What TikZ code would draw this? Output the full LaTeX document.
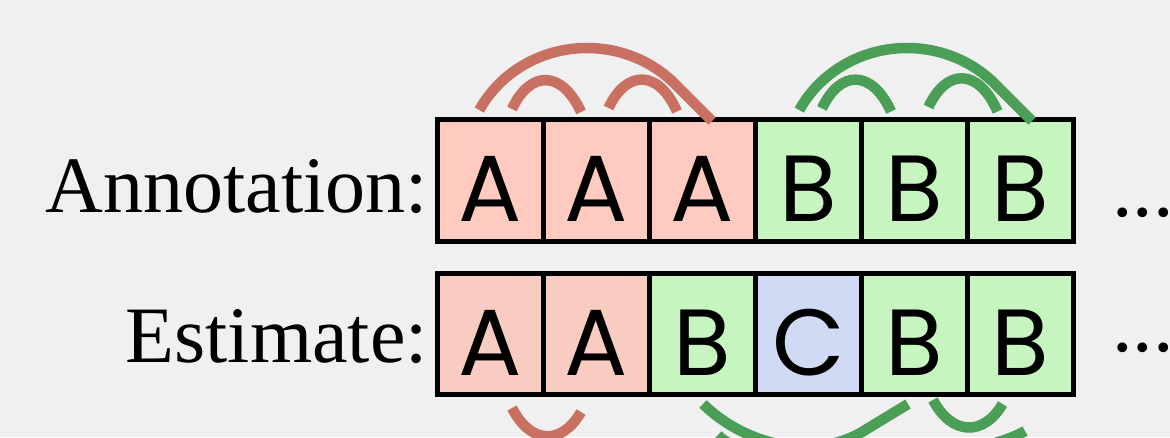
\documentclass[tikz,border=0pt]{standalone}
\usepackage{fontspec}
\setmainfont{Liberation Serif}
\newfontfamily\cellfont{Poppins}
\definecolor{bg}{HTML}{F0F0F0}
\definecolor{redfillA}{HTML}{FFCBC0}
\definecolor{redfillB}{HTML}{F8CCC1}
\definecolor{greenfill}{HTML}{C6F5C0}
\definecolor{bluefill}{HTML}{D0DAF5}
\definecolor{redarc}{HTML}{C87062}
\definecolor{greenarc}{HTML}{4A9E55}
\tikzset{
  cell/.style={draw=black, line width=5pt, minimum width=106pt, inner sep=0pt, outer sep=0pt},
  toprow/.style={cell, minimum height=122pt},
  botrow/.style={cell, minimum height=121pt},
  letter/.style={anchor=base, inner sep=0pt, font=\cellfont\fontsize{94}{94}\selectfont},
  rowlabel/.style={anchor=base east, inner sep=0pt, font=\fontsize{80}{80}\selectfont},
  dotstext/.style={anchor=base west, inner sep=0pt, font=\fontsize{82}{82}\selectfont},
  arcline/.style={line width=10.5pt, line cap=butt},
}
\begin{document}
\begin{tikzpicture}[x=1pt,y=-1pt]
\useasboundingbox (0,0) rectangle (1170,437);
\clip (0,0) rectangle (1170,437);
\fill[bg] (0,0) rectangle (1170,437);

% cells
\foreach \i/\cl/\tx in {1/redfillA/A,2/redfillA/A,3/redfillA/A,4/greenfill/B,5/greenfill/B,6/greenfill/B}{
  \node[toprow, fill=\cl] (t\i) at ({384.5+106*\i},180.5) {};
  \node[letter] (tl\i) at ({384.5+106*\i},221) {\tx};
}
\foreach \i/\cl/\tx in {1/redfillB/A,2/redfillB/A,3/greenfill/B,4/bluefill/C,5/greenfill/B,6/greenfill/B}{
  \node[botrow, fill=\cl] (b\i) at ({384.5+106*\i},334) {};
  \node[letter] (bl\i) at ({384.5+106*\i},375) {\tx};
}

% labels
\node[rowlabel] (annot) at (428,212) {Annotation:};
\node[rowlabel] (estim) at (428,362) {Estimate:};
\node[dotstext] (dtop) at (1112,216) {..\makebox[0pt][l]{.}};
\node[dotstext] (dbot) at (1112,351) {..\makebox[0pt][l]{.}};

% arc end points
\coordinate (ra1s) at (512,109);   \coordinate (ra1e) at (581,112);
\coordinate (ra2s) at (608.5,108); \coordinate (ra2e) at (677,111.5);
\coordinate (rbc) at (587,165);    \coordinate (rbe) at (712,121);
\coordinate (ga1s) at (822,108.5); \coordinate (ga1e) at (891,111.5);
\coordinate (ga2s) at (928.5,107); \coordinate (ga2e) at (997.5,111.5);
\coordinate (gbc) at (907,165);    \coordinate (gbe) at (1032,121);
\coordinate (rd1s) at (512,408);   \coordinate (rd1e) at (581,412);
\coordinate (gd1s) at (933,400);   \coordinate (gd1e) at (1002.5,404);
\coordinate (gd2s) at (703,404);   \coordinate (gd2m) at (862,432); \coordinate (gd2e) at (908,404);
\coordinate (gd3s) at (718,435);   \coordinate (gd3e) at (1025,431);

% top red arcs
\draw[arcline, redarc] (ra1s) .. controls (530,70) and (562,70) .. (ra1e);
\draw[arcline, redarc] (ra2s) .. controls (626.5,69.5) and (658.5,69.5) .. (ra2e);
\draw[arcline, redarc] (rbc) ++(-152:122 and 117) arc[start angle=-152, end angle=-45, x radius=122, y radius=117] -- (rbe);

% top green arcs
\draw[arcline, greenarc] (ga1s) .. controls (840,69.5) and (872,69.5) .. (ga1e);
\draw[arcline, greenarc] (ga2s) .. controls (946.5,68) and (978.5,68) .. (ga2e);
\draw[arcline, greenarc] (gbc) ++(-152:122 and 117) arc[start angle=-152, end angle=-45, x radius=122, y radius=117] -- (gbe);

% bottom arcs
\draw[arcline, redarc] (rd1s) .. controls (531,445) and (562,445) .. (rd1e);
\draw[arcline, greenarc] (gd1s) .. controls (952,436) and (984,436) .. (gd1e);
\draw[arcline, greenarc] (gd2s) .. controls (745,445) and (812,461) .. (gd2m) -- (gd2e);
\draw[arcline, greenarc] (gd3s) .. controls (748,471) and (965,466) .. (gd3e);
\end{tikzpicture}
\end{document}
